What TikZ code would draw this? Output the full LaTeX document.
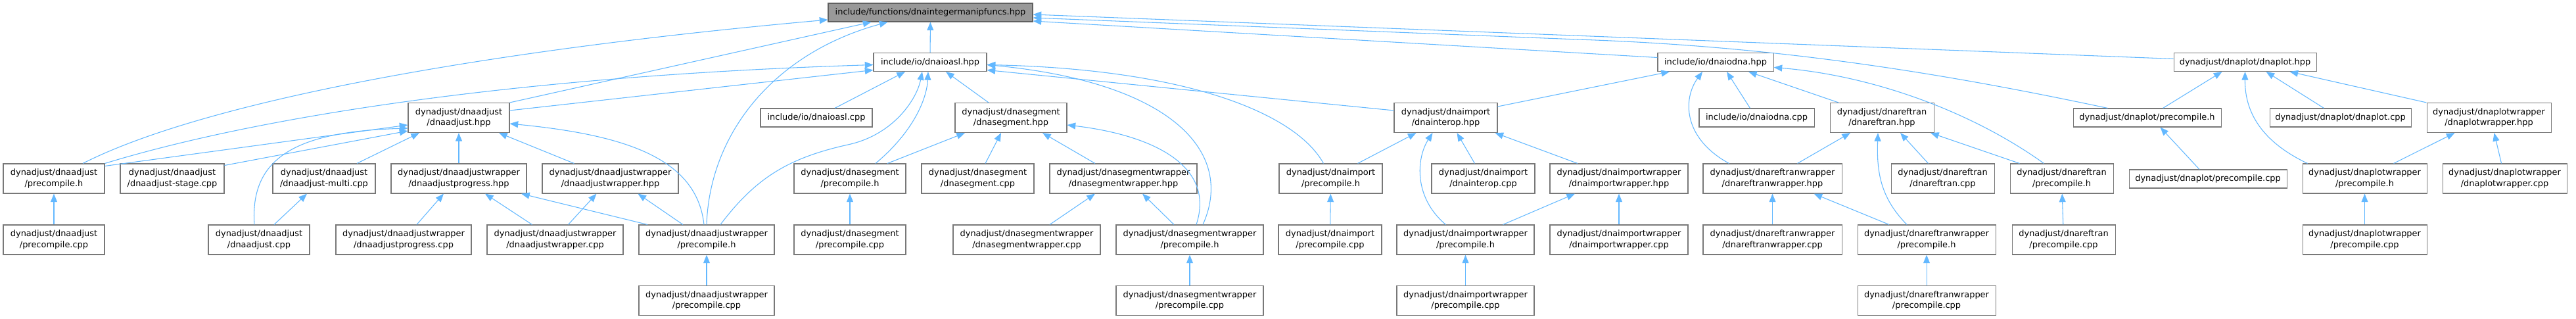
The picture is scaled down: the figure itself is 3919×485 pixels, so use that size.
\documentclass[tikz,border=0pt]{standalone}
\usepackage{fontspec}
\setmainfont{DejaVu Sans}
\usetikzlibrary{arrows.meta,calc}

\definecolor{edgeblue}{HTML}{63B8FF}
\definecolor{boxline}{HTML}{787878}
\definecolor{rootfill}{HTML}{999999}

\begin{document}
\begin{tikzpicture}[
    x=0.75pt, y=-0.75pt,
    file/.style={
        draw=boxline,
        fill=white,
        line width=0.8pt,
        minimum height=21pt,
        inner xsep=2pt,
        inner ysep=0pt,
        font=\fontsize{9.7}{12.5}\selectfont,
        align=center
    },
    file2/.style={file, minimum height=33.75pt},
    root/.style={file, fill=rootfill, draw=boxline!80!black},
    boxw/.style={minimum width=#1*0.75pt},
    dep/.style={
        -{Triangle[length=9.5pt,width=7.5pt]},
        line width=0.8pt,
        draw=edgeblue
    }
]
    \useasboundingbox (0,0) rectangle (3919,485);

    \node[root, boxw=311] (top) at (1415.5,19) {include/functions/dnaintegermanipfuncs.hpp};

    \node[file, boxw=172] (ioasl) at (1415,94.5) {include/io/dnaioasl.hpp};
    \node[file, boxw=176] (iodna) at (2610,94.5) {include/io/dnaiodna.hpp};
    \node[file, boxw=217] (plothpp) at (3415.5,94.5) {dynadjust/dnaplot/dnaplot.hpp};

    \node[file2, boxw=154] (adjhpp) at (698,179) {dynadjust/dnaadjust\\/dnaadjust.hpp};
    \node[file, boxw=170] (ioaslcpp) at (1242,179) {include/io/dnaioasl.cpp};
    \node[file2, boxw=170] (seghpp) at (1538,179) {dynadjust/dnasegment\\/dnasegment.hpp};
    \node[file2, boxw=157] (interophpp) at (2199.5,179) {dynadjust/dnaimport\\/dnainterop.hpp};
    \node[file, boxw=175] (iodnacpp) at (2672.5,179) {include/io/dnaiodna.cpp};
    \node[file2, boxw=158] (reftranhpp) at (2863,179) {dynadjust/dnareftran\\/dnareftran.hpp};
    \node[file, boxw=225] (plotpch) at (3266.5,179) {dynadjust/dnaplot/precompile.h};
    \node[file, boxw=215] (plotcpp) at (3560.5,179) {dynadjust/dnaplot/dnaplot.cpp};
    \node[file2, boxw=189] (plotwrphpp) at (3786.5,179) {dynadjust/dnaplotwrapper\\/dnaplotwrapper.hpp};

    \node[file2, boxw=154] (adjpch) at (82,271.5) {dynadjust/dnaadjust\\/precompile.h};
    \node[file2, boxw=158] (adjstage) at (262,271.5) {dynadjust/dnaadjust\\/dnaadjust-stage.cpp};
    \node[file2, boxw=156] (adjmulti) at (493,271.5) {dynadjust/dnaadjust\\/dnaadjust-multi.cpp};
    \node[file2, boxw=206] (adjproghpp) at (698,271.5) {dynadjust/dnaadjustwrapper\\/dnaadjustprogress.hpp};
    \node[file2, boxw=207] (adjwrphpp) at (928.5,271.5) {dynadjust/dnaadjustwrapper\\/dnaadjustwrapper.hpp};
    \node[file2, boxw=170] (segpch) at (1293,271.5) {dynadjust/dnasegment\\/precompile.h};
    \node[file2, boxw=171] (segcpp) at (1487.5,271.5) {dynadjust/dnasegment\\/dnasegment.cpp};
    \node[file2, boxw=224] (segwrphpp) at (1709,271.5) {dynadjust/dnasegmentwrapper\\/dnasegmentwrapper.hpp};
    \node[file2, boxw=157] (imppch) at (2024.5,271.5) {dynadjust/dnaimport\\/precompile.h};
    \node[file2, boxw=157] (interopcpp) at (2256.5,271.5) {dynadjust/dnaimport\\/dnainterop.cpp};
    \node[file2, boxw=210] (impwrphpp) at (2463,271.5) {dynadjust/dnaimportwrapper\\/dnaimportwrapper.hpp};
    \node[file2, boxw=211] (reftranwrphpp) at (2696.5,271.5) {dynadjust/dnareftranwrapper\\/dnareftranwrapper.hpp};
    \node[file2, boxw=157] (reftrancpp) at (2955.5,271.5) {dynadjust/dnareftran\\/dnareftran.cpp};
    \node[file2, boxw=157] (reftranpch) at (3136.5,271.5) {dynadjust/dnareftran\\/precompile.h};
    \node[file, boxw=240] (plotpcpp) at (3359,272) {dynadjust/dnaplot/precompile.cpp};
    \node[file2, boxw=189] (plotwrppch) at (3597.5,271.5) {dynadjust/dnaplotwrapper\\/precompile.h};
    \node[file2, boxw=189] (plotwrpcpp) at (3810.5,271.5) {dynadjust/dnaplotwrapper\\/dnaplotwrapper.cpp};

    \node[file2, boxw=154] (adjpcpp) at (82,364.5) {dynadjust/dnaadjust\\/precompile.cpp};
    \node[file2, boxw=154] (adjcpp) at (394,364.5) {dynadjust/dnaadjust\\/dnaadjust.cpp};
    \node[file2, boxw=206] (adjprogcpp) at (614,364.5) {dynadjust/dnaadjustwrapper\\/dnaadjustprogress.cpp};
    \node[file2, boxw=207] (adjwrpcpp) at (844.5,364.5) {dynadjust/dnaadjustwrapper\\/dnaadjustwrapper.cpp};
    \node[file2, boxw=206] (adjwrppch) at (1075,364.5) {dynadjust/dnaadjustwrapper\\/precompile.h};
    \node[file2, boxw=170] (segpcpp) at (1293,364.5) {dynadjust/dnasegment\\/precompile.cpp};
    \node[file2, boxw=224] (segwrpcpp) at (1562,364.5) {dynadjust/dnasegmentwrapper\\/dnasegmentwrapper.cpp};
    \node[file2, boxw=224] (segwrppch) at (1810,364.5) {dynadjust/dnasegmentwrapper\\/precompile.h};
    \node[file2, boxw=157] (imppcpp) at (2023.5,364.5) {dynadjust/dnaimport\\/precompile.cpp};
    \node[file2, boxw=209] (impwrppch) at (2229.5,364.5) {dynadjust/dnaimportwrapper\\/precompile.h};
    \node[file2, boxw=210] (impwrpcpp) at (2463,364.5) {dynadjust/dnaimportwrapper\\/dnaimportwrapper.cpp};
    \node[file2, boxw=211] (reftranwrpcpp) at (2696.5,364.5) {dynadjust/dnareftranwrapper\\/dnareftranwrapper.cpp};
    \node[file2, boxw=210] (reftranwrppch) at (2931,364.5) {dynadjust/dnareftranwrapper\\/precompile.h};
    \node[file2, boxw=157] (reftranpcpp) at (3139.5,364.5) {dynadjust/dnareftran\\/precompile.cpp};
    \node[file2, boxw=189] (plotwrppcpp) at (3597.5,364.5) {dynadjust/dnaplotwrapper\\/precompile.cpp};

    \node[file2, boxw=206] (adjwrppcpp) at (1075,457) {dynadjust/dnaadjustwrapper\\/precompile.cpp};
    \node[file2, boxw=224] (segwrppcpp) at (1810,457) {dynadjust/dnasegmentwrapper\\/precompile.cpp};
    \node[file2, boxw=209] (impwrppcpp) at (2229.5,457) {dynadjust/dnaimportwrapper\\/precompile.cpp};
    \node[file2, boxw=210] (reftranwrppcpp) at (2931,457) {dynadjust/dnareftranwrapper\\/precompile.cpp};

    % into the root file
    \draw[dep] ($(adjpch.north)+(44,0)$) .. controls (300,160) and (700,80) .. ($(top.west)+(0,11)$);
    \draw[dep] (adjhpp.north east) -- ($(top.south)+(-90,0)$);
    \draw[dep] (adjwrppch.north) .. controls (1080,200) and (1180,80) .. ($(top.south)+(-65,0)$);
    \draw[dep] (ioasl) -- (top);
    \draw[dep] ($(iodna.west)+(0,-7)$) -- ($(top.east)+(0,13)$);
    \draw[dep] ($(plotpch.north)+(-60,0)$) .. controls (2950,110) and (2700,70) .. (2400,60) -- ($(top.east)+(0,8)$);
    \draw[dep] ($(plothpp.west)+(0,-5)$) -- ($(top.east)+(0,3)$);

    % dnaioasl.hpp
    \draw[dep] (adjpch.north east) .. controls (400,175) and (800,115) .. ($(ioasl.west)+(0,4)$);
    \draw[dep] ($(adjhpp.east)+(0,-11)$) -- ($(ioasl.west)+(0,12)$);
    \draw[dep] ($(ioaslcpp.north)+(28,0)$) -- ($(ioasl.south)+(-38,0)$);
    \draw[dep] ($(adjwrppch.north)+(21,0)$) .. controls (1150,270) and (1200,240) .. (1290,220)
        .. controls (1360,205) and (1395,150) .. ($(ioasl.south)+(-12,0)$);
    \draw[dep] ($(segpch.north)+(39,0)$) .. controls (1390,200) and (1410,150) .. ($(ioasl.south)+(-3,0)$);
    \draw[dep] ($(seghpp.north)+(-34,0)$) -- ($(ioasl.south)+(24,0)$);
    \draw[dep] ($(segwrppch.north)+(20,0)$) .. controls (1880,230) and (1780,125) .. ($(ioasl.east)+(0,4)$);
    \draw[dep] ($(imppch.north)+(-11,0)$) .. controls (1970,170) and (1800,105) .. ($(ioasl.east)+(0,4)$);
    \draw[dep] ($(interophpp.west)+(0,-11)$) -- ($(ioasl.east)+(0,12)$);

    % dnaadjust
    \draw[dep] ($(adjpch.north east)+(0,4)$) -- ($(adjhpp.west)+(0,11)$);
    \draw[dep] ($(adjcpp.north)+(-7,0)$) .. controls (380,240) and (450,200) .. ($(adjhpp.west)+(0,16)$);
    \draw[dep] ($(adjstage.north east)+(0,3)$) -- ($(adjhpp.west)+(0,20)$);
    \draw[dep] ($(adjmulti.north)+(50,0)$) -- ($(adjhpp.south)+(-60,0)$);
    \draw[dep] (adjproghpp) -- (adjhpp);
    \draw[dep] ($(adjwrphpp.north)+(-55,0)$) -- ($(adjhpp.south)+(61,0)$);
    \draw[dep] ($(adjwrppch.north)+(-4,0)$) .. controls (1060,240) and (950,205) .. ($(adjhpp.east)+(0,9)$);
    \draw[dep] ($(adjcpp.north)+(23,0)$) -- ($(adjmulti.south)+(-26,0)$);
    \draw[dep] (adjpcpp) -- (adjpch);
    \draw[dep] ($(adjprogcpp.north)+(20,0)$) -- ($(adjproghpp.south)+(-23,0)$);
    \draw[dep] ($(adjwrpcpp.north)+(-35,0)$) -- ($(adjproghpp.south)+(40,0)$);
    \draw[dep] ($(adjwrppch.north)+(-90,0)$) -- ($(adjproghpp.south)+(95,0)$);
    \draw[dep] ($(adjwrpcpp.north)+(20,0)$) -- ($(adjwrphpp.south)+(-21,0)$);
    \draw[dep] ($(adjwrppch.north)+(-36,0)$) -- ($(adjwrphpp.south)+(42,0)$);
    \draw[dep] (adjwrppcpp) -- (adjwrppch);

    % dnasegment
    \draw[dep] (segpcpp) -- (segpch);
    \draw[dep] ($(segpch.north)+(57,0)$) -- ($(seghpp.south)+(-70,0)$);
    \draw[dep] ($(segcpp.north)+(11.5,0)$) -- ($(seghpp.south)+(-15,0)$);
    \draw[dep] ($(segwrphpp.north)+(-43,0)$) -- ($(seghpp.south)+(48,0)$);
    \draw[dep] ($(segwrppch.north)+(10,0)$) .. controls (1850,250) and (1750,205) .. ($(seghpp.east)+(0,11)$);
    \draw[dep] ($(segwrpcpp.north)+(35,0)$) -- ($(segwrphpp.south)+(-43,0)$);
    \draw[dep] ($(segwrppch.north)+(-24,0)$) -- ($(segwrphpp.south)+(29,0)$);
    \draw[dep] (segwrppcpp) -- (segwrppch);

    % dnaimport
    \draw[dep] ($(imppch.north)+(41,0)$) -- ($(interophpp.south)+(-45,0)$);
    \draw[dep] ($(impwrppch.north)+(-30,0)$) .. controls (2150,300) and (2155,240) .. ($(interophpp.south)+(-20,0)$);
    \draw[dep] ($(interopcpp.north)+(-13,0)$) -- ($(interophpp.south)+(17,0)$);
    \draw[dep] ($(impwrphpp.north)+(-63,0)$) -- ($(interophpp.south)+(75,0)$);
    \draw[dep] ($(interophpp.east)+(0,-17)$) -- ($(iodna.south)+(-70,0)$);
    \draw[dep] (imppcpp) -- (imppch);
    \draw[dep] ($(impwrppch.north)+(57,0)$) -- ($(impwrphpp.south)+(-67,0)$);
    \draw[dep] (impwrpcpp) -- (impwrphpp);
    \draw[dep] (impwrppcpp) -- (impwrppch);

    % dnaiodna.hpp and dnareftran
    \draw[dep] ($(iodnacpp.north)+(-10,0)$) -- ($(iodna.south)+(17,0)$);
    \draw[dep] ($(reftranwrphpp.north)+(-66,0)$) .. controls (2560,210) and (2560,150) .. ($(iodna.south)+(-20,0)$);
    \draw[dep] ($(reftranhpp.north)+(-66,0)$) -- ($(iodna.south)+(50,0)$);
    \draw[dep] ($(reftranpch.north)+(-27,0)$) .. controls (3000,170) and (2850,115) .. ($(iodna.east)+(0,8)$);
    \draw[dep] ($(reftranwrphpp.north)+(38,0)$) -- ($(reftranhpp.south)+(-48,0)$);
    \draw[dep] ($(reftranwrppch.north)+(-30,0)$) .. controls (2860,300) and (2855,260) .. ($(reftranhpp.south)+(-6,0)$);
    \draw[dep] ($(reftrancpp.north)+(-22,0)$) -- ($(reftranhpp.south)+(28,0)$);
    \draw[dep] ($(reftranpch.north)+(-64,0)$) -- ($(reftranhpp.south)+(74,0)$);
    \draw[dep] (reftranwrpcpp) -- (reftranwrphpp);
    \draw[dep] ($(reftranwrppch.north)+(-57,0)$) -- ($(reftranwrphpp.south)+(63,0)$);
    \draw[dep] (reftranwrppcpp) -- (reftranwrppch);
    \draw[dep] (reftranpcpp) -- (reftranpch);

    % dnaplot
    \draw[dep] ($(plotpch.north)+(24,0)$) -- ($(plothpp.south)+(-35,0)$);
    \draw[dep] ($(plotwrppch.north)+(-87,0)$) .. controls (3440,215) and (3415,170) .. (plothpp.south);
    \draw[dep] ($(plotcpp.north)+(-25,0)$) -- ($(plothpp.south)+(32,0)$);
    \draw[dep] (plotwrphpp.north west) -- ($(plothpp.south)+(68,0)$);
    \draw[dep] ($(plotpcpp.north)+(-13,0)$) -- ($(plotpch.south)+(20,0)$);
    \draw[dep] ($(plotwrppch.north)+(44,0)$) -- ($(plotwrphpp.south)+(-52,0)$);
    \draw[dep] ($(plotwrpcpp.north)+(-5,0)$) -- ($(plotwrphpp.south)+(8,0)$);
    \draw[dep] (plotwrppcpp) -- (plotwrppch);
\end{tikzpicture}
\end{document}
